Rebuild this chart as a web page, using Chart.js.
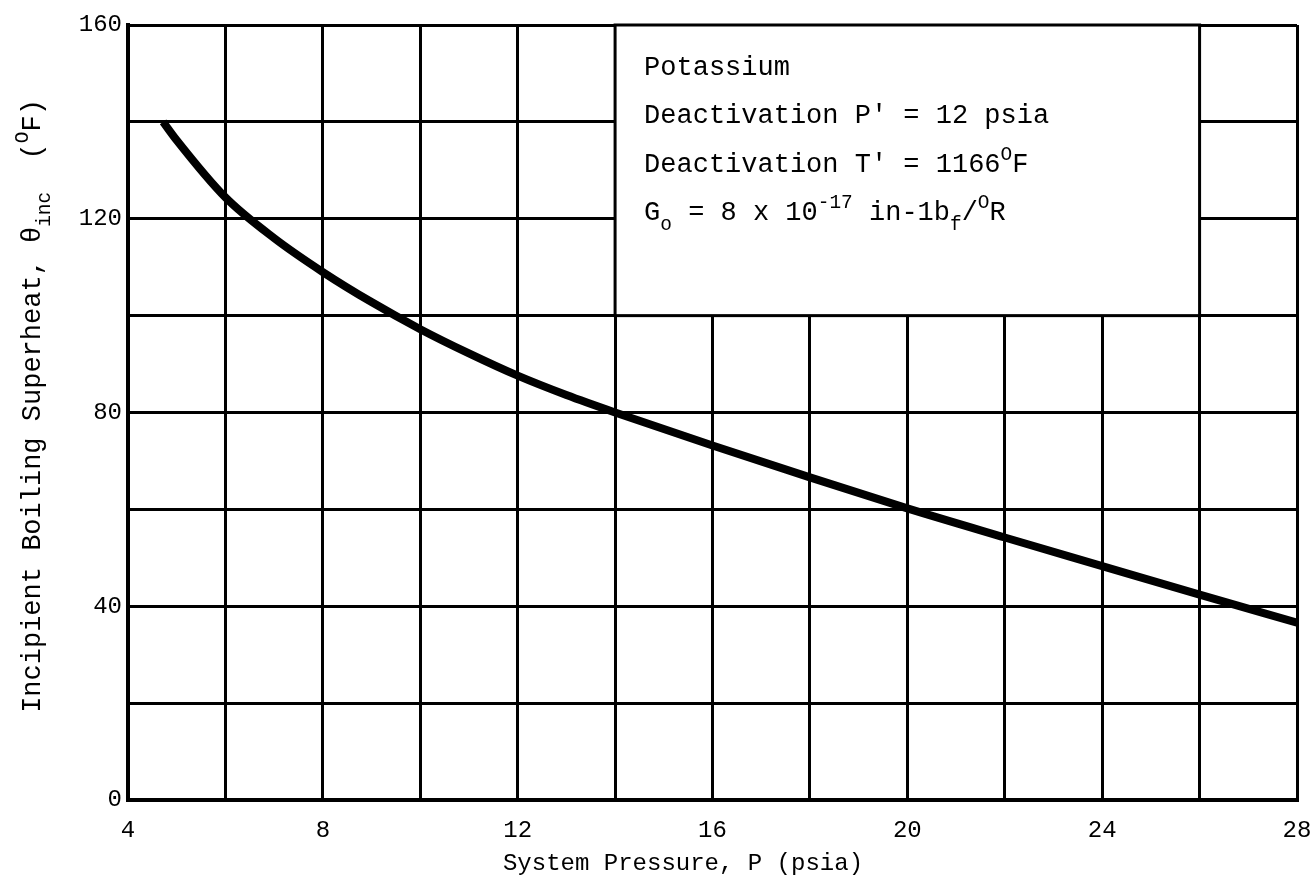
<!DOCTYPE html>
<html>
<head>
<meta charset="utf-8">
<script src="https://cdn.jsdelivr.net/npm/chart.js@4"></script>
<style>
  html, body { margin: 0; padding: 0; background: #fff; overflow: hidden; }
  #wrap { width: 1312px; height: 881px; position: relative; }
  canvas { display: block; }
</style>
</head>
<body>
<div id="wrap"><canvas id="chartcanvas"></canvas></div>
<script>
// curve
var pressure  = [4.72, 5, 6, 7, 8, 9, 10, 11, 12, 13, 14, 16, 18, 20, 22, 24, 26, 28];
var superheat = [140, 136.2, 124.4, 116.0, 109.0, 102.8, 97.2, 92.2, 87.6, 83.6, 80, 73.2, 66.6, 60.2, 54.2, 48.3, 42.4, 36.6];

var xTicks = [4, 8, 12, 16, 20, 24, 28];
var yTicks = [0, 40, 80, 120, 160];

var boxLines = [
    [{t: "Potassium"}],
    [{t: "Deactivation P' = 12 psia"}],
    [{t: "Deactivation T' = 1166"}, {t: "O", sup: true}, {t: "F"}],
    [{t: "G"}, {t: "o", sub: true}, {t: " = 8 x 10"}, {t: "-17", sup: true}, {t: " in-1b"}, {t: "f", sub: true}, {t: "/"}, {t: "O", sup: true}, {t: "R"}]
];

var FONT = "'Liberation Mono', 'DejaVu Sans Mono', monospace";

// draws a run of text pieces with simple sub/superscripts
function drawRich(ctx, x, y, parts, size) {
    parts.forEach(function(p) {
        var s = size, dy = 0;
        if (p.sup) { s = size * 0.72; dy = -size * 0.45; }
        if (p.sub) { s = size * 0.72; dy = size * 0.38; }
        ctx.font = s + "px " + FONT;
        ctx.fillText(p.t, x, y + dy);
        x += ctx.measureText(p.t).width;
    });
    return x;
}
function richWidth(ctx, parts, size) {
    var w = 0;
    parts.forEach(function(p) {
        var s = (p.sup || p.sub) ? size * 0.72 : size;
        ctx.font = s + "px " + FONT;
        w += ctx.measureText(p.t).width;
    });
    return w;
}

var notePlugin = {
    id: "noteBox",
    beforeDatasetsDraw: function(chart) {
        var ctx = chart.ctx, xs = chart.scales.x, ys = chart.scales.y;
        var l = xs.getPixelForValue(14), r = xs.getPixelForValue(26);
        var t = ys.getPixelForValue(160), b = ys.getPixelForValue(100);
        ctx.save();
        ctx.fillStyle = "#fff";
        ctx.fillRect(l, t, r - l, b - t);
        ctx.strokeStyle = "#000";
        ctx.lineWidth = 3;
        ctx.strokeRect(l, t, r - l, b - t);
        ctx.fillStyle = "#000";
        ctx.textBaseline = "alphabetic";
        var baselines = [75, 123, 172, 220];
        boxLines.forEach(function(line, i) {
            drawRich(ctx, l + 29, baselines[i], line, 27);
        });
        ctx.restore();
    }
};

var axisTitles = {
    id: "axisTitles",
    afterDraw: function(chart) {
        var ctx = chart.ctx;
        ctx.save();
        ctx.fillStyle = "#000";
        ctx.textBaseline = "middle";
        // x title
        ctx.font = "24px " + FONT;
        ctx.textAlign = "center";
        ctx.fillText("System Pressure, P (psia)", 683, 864);
        // y title, rotated
        var parts = [{t: "Incipient Boiling Superheat, \u03b8"}, {t: "inc", sub: true}, {t: "  ("}, {t: "O", sup: true}, {t: "F)"}];
        ctx.textAlign = "left";
        ctx.textBaseline = "alphabetic";
        var w = richWidth(ctx, parts, 27);
        ctx.translate(40, 406);
        ctx.rotate(-Math.PI / 2);
        drawRich(ctx, -w / 2, 0, parts, 27);
        ctx.restore();
    }
};

var ctx1 = document.getElementById("chartcanvas");

var data1 = {
    datasets: [{
        data: pressure.map(function(p, i) { return {x: p, y: superheat[i]}; }),
        borderColor: "#000",
        borderWidth: 8,
        pointRadius: 0,
        fill: false,
        cubicInterpolationMode: "monotone"
    }]
};

var options = {
    responsive: true,
    maintainAspectRatio: false,
    animation: false,
    layout: { padding: { top: 25, right: 15, left: 0, bottom: 0 } },
    plugins: { legend: { display: false }, tooltip: { enabled: false } },
    scales: {
        x: {
            type: "linear",
            min: 4, max: 28,
            afterFit: function(s) { s.height = 81; s.paddingRight = 0; s.paddingLeft = 0; },
            ticks: {
                stepSize: 2,
                autoSkip: false,
                maxRotation: 0,
                padding: 16,
                color: "#000",
                font: { family: FONT, size: 24 },
                callback: function(v) { return xTicks.indexOf(v) >= 0 ? String(v) : ""; }
            },
            grid: { color: "#000", lineWidth: 3, drawTicks: false },
            border: { color: "#000", width: 4 }
        },
        y: {
            min: 0, max: 160,
            afterFit: function(s) { s.width = 128; s.paddingTop = 0; s.paddingBottom = 0; },
            ticks: {
                stepSize: 20,
                autoSkip: false,
                padding: 6,
                color: "#000",
                font: { family: FONT, size: 24 },
                callback: function(v) { return yTicks.indexOf(v) >= 0 ? String(v) : ""; }
            },
            grid: { color: "#000", lineWidth: 3, drawTicks: false },
            border: { color: "#000", width: 4 }
        }
    }
};

var chart1 = new Chart(ctx1, {
    type: "line",
    data: data1,
    options: options,
    plugins: [notePlugin, axisTitles]
});
</script>
</body>
</html>
